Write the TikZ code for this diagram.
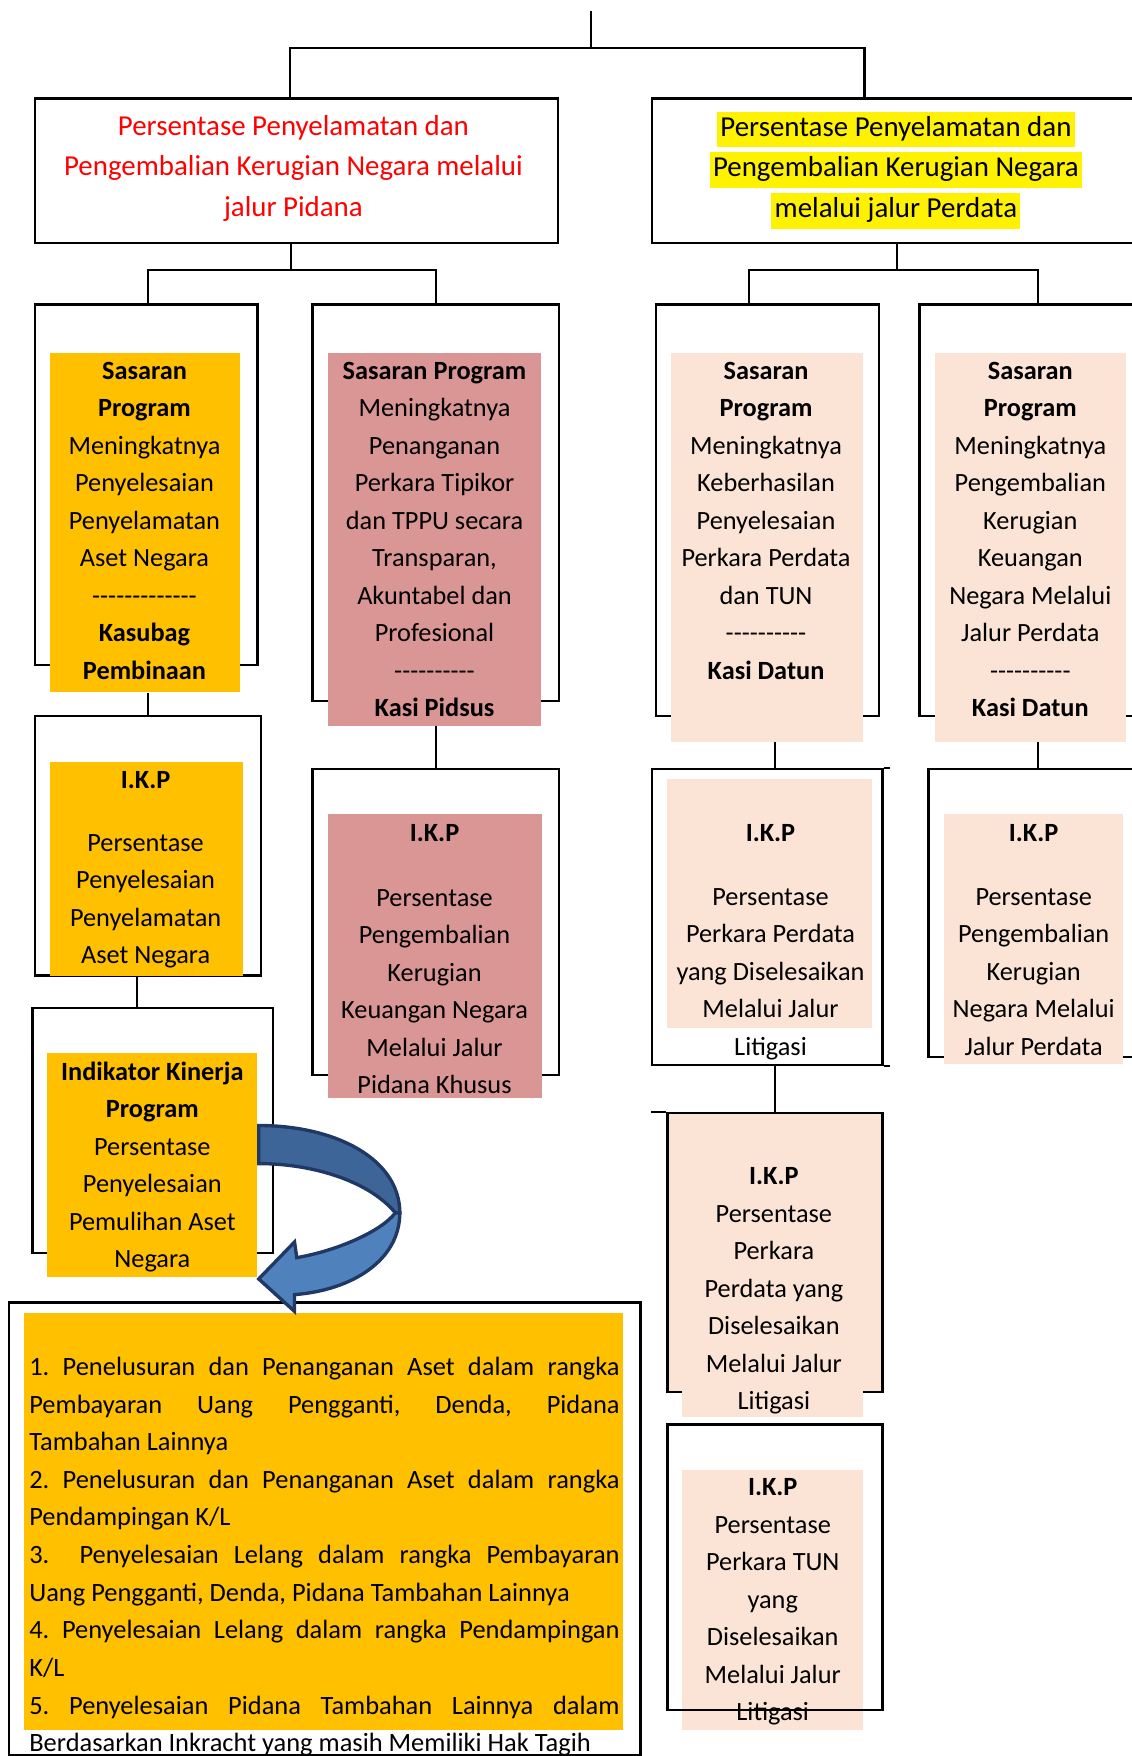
\documentclass[tikz,border=0pt]{standalone}
\usepackage{fontspec}
\setmainfont{Carlito}[Ligatures=TeXOff]
\usetikzlibrary{positioning}
\definecolor{boxorange}{HTML}{FFC000}
\definecolor{boxpink}{HTML}{DA9694}
\definecolor{boxpeach}{HTML}{FBE4D5}
\definecolor{arrowdark}{HTML}{3D6597}
\definecolor{arrowlight}{HTML}{4F81BD}
\definecolor{arrowline}{HTML}{1F3864}
\setlength{\fboxsep}{3pt}
\frenchspacing
\newcommand{\topline}{\rule{0pt}{18pt}}
\newcommand{\hilite}[1]{\colorbox{yellow}{\rule[-7pt]{0pt}{26pt}#1}}
\tikzset{
	boxline/.style={draw, line width=2pt, inner sep=0pt, anchor=north west},
	cellfill/.style={fill=#1, inner sep=0pt, anchor=north west},
	celltext/.style={align=center, inner sep=0pt, anchor=north, font=\fontsize{23.5}{33.5}\selectfont},
	headtext/.style={align=center, inner sep=0pt, anchor=north, font=\fontsize{25.8}{36.3}\selectfont},
	listtext/.style={align=justify, text width=527pt, inner sep=0pt, anchor=north west, font=\fontsize{23.6}{33.6}\selectfont},
	connector/.style={line width=2pt},
	arrowband/.style={draw=arrowline, line width=3pt}
}
\begin{document}
\begin{tikzpicture}[x=1pt,y=-1pt]
	\useasboundingbox (0,0) rectangle (1010,1568);
	%Top boxes
	\node [boxline, minimum width=467pt, minimum height=129pt] (abox) at (30,87) {};
	\node [headtext, text=red] (atext) at (262,102.5) {\topline Persentase Penyelamatan dan\\Pengembalian Kerugian Negara melalui\\jalur Pidana};
	\node [boxline, minimum width=444pt, minimum height=129pt] (bbox) at (581,87) {};
	\node [headtext] (btext) at (800,99.5) {\hilite{Persentase Penyelamatan dan}\\\hilite{Pengembalian Kerugian Negara}\\\hilite{melalui jalur Perdata}};
	%Sasaran Program boxes
	%cellC1
	\node [boxline, minimum width=199pt, minimum height=322pt] (c1box) at (30,271) {};
	\node [cellfill=boxorange, minimum width=170pt, minimum height=303pt] (c1fill) at (44,315) {};
	\node [celltext] (c1text) at (129,320.5) {\topline\textbf{Sasaran}\\\textbf{Program}\\Meningkatnya\\Penyelesaian\\Penyelamatan\\Aset Negara\\-------------\\\textbf{Kasubag}\\\textbf{Pembinaan}};
	%cellC2
	\node [boxline, minimum width=220pt, minimum height=354pt] (c2box) at (278,271) {};
	\node [cellfill=boxpink, minimum width=190pt, minimum height=333pt] (c2fill) at (293,315) {};
	\node [celltext] (c2text) at (388,320.5) {\topline\textbf{Sasaran Program}\\Meningkatnya\\Penanganan\\Perkara Tipikor\\dan TPPU secara\\Transparan,\\Akuntabel dan\\Profesional\\----------\\\textbf{Kasi Pidsus}};
	%cellC3
	\node [boxline, minimum width=199pt, minimum height=367pt] (c3box) at (585,271) {};
	\node [cellfill=boxpeach, minimum width=171pt, minimum height=347pt] (c3fill) at (599,315) {};
	\node [celltext] (c3text) at (684,320.5) {\topline\textbf{Sasaran}\\\textbf{Program}\\Meningkatnya\\Keberhasilan\\Penyelesaian\\Perkara Perdata\\dan TUN\\----------\\\textbf{Kasi Datun}};
	%cellC4
	\node [boxline, minimum width=210pt, minimum height=367pt] (c4box) at (820,271) {};
	\node [cellfill=boxpeach, minimum width=170pt, minimum height=347pt] (c4fill) at (835,315) {};
	\node [celltext] (c4text) at (920,320.5) {\topline\textbf{Sasaran}\\\textbf{Program}\\Meningkatnya\\Pengembalian\\Kerugian\\Keuangan\\Negara Melalui\\Jalur Perdata\\----------\\\textbf{Kasi Datun}};
	%I.K.P boxes
	%cellD1
	\node [boxline, minimum width=202pt, minimum height=232pt] (d1box) at (30,638) {};
	\node [cellfill=boxorange, minimum width=173pt, minimum height=191pt] (d1fill) at (44,680) {};
	\node [celltext] (d1text) at (130,686) {\topline\textbf{I.K.P}\\[22.5pt]Persentase\\Penyelesaian\\Penyelamatan\\Aset Negara};
	%cellD2
	\node [boxline, minimum width=220pt, minimum height=273pt] (d2box) at (278,686) {};
	\node [cellfill=boxpink, minimum width=191pt, minimum height=253pt] (d2fill) at (293,727) {};
	\node [celltext] (d2text) at (388,733) {\topline\textbf{I.K.P}\\[24.5pt]Persentase\\Pengembalian\\Kerugian\\Keuangan Negara\\Melalui Jalur\\Pidana Khusus};
	%cellD3
	\node [boxline, minimum width=206pt, minimum height=264pt] (d3box) at (581,686) {};
	\draw [connector] (d3box.north east) -- ++(6,0);
	\draw [connector] (d3box.south east) -- ++(6,0);
	\node [cellfill=boxpeach, minimum width=183pt, minimum height=223pt] (d3fill) at (595,695) {};
	\node [celltext] (d3text) at (688,733) {\topline\textbf{I.K.P}\\[23.5pt]Persentase\\Perkara Perdata\\yang Diselesaikan\\Melalui Jalur\\Litigasi};
	%cellD4
	\node [boxline, minimum width=202pt, minimum height=257pt] (d4box) at (828,686) {};
	\node [cellfill=boxpeach, minimum width=160pt, minimum height=223pt] (d4fill) at (843,727) {};
	\node [celltext] (d4text) at (923,733) {\topline\textbf{I.K.P}\\[23.5pt]Persentase\\Pengembalian\\Kerugian\\Negara Melalui\\Jalur Perdata};
	%Indikator Kinerja Program
	\node [boxline, minimum width=215pt, minimum height=219pt] (e1box) at (28,899) {};
	\node [cellfill=boxorange, minimum width=187pt, minimum height=200pt] (e1fill) at (42,940) {};
	\node [celltext] (e1text) at (136,946.5) {\topline\textbf{Indikator Kinerja}\\\textbf{Program}\\Persentase\\Penyelesaian\\Pemulihan Aset\\Negara};
	%Litigasi boxes
	\node [boxline, fill=boxpeach, minimum width=192pt, minimum height=249pt] (f3box) at (595,993) {};
	\draw [connector] (f3box.north west) -- ++(-14,0);
	\node [cellfill=boxpeach, minimum width=161pt, minimum height=23pt] (f3fill) at (609,1242) {};
	\node [celltext] (f3text) at (691,1039.5) {\topline\textbf{I.K.P}\\Persentase\\Perkara\\Perdata yang\\Diselesaikan\\Melalui Jalur\\Litigasi};
	\node [cellfill=boxpeach, minimum width=161pt, minimum height=233pt] (g3fill) at (609,1312) {};
	\node [celltext] (g3text) at (690,1317.5) {\topline\textbf{I.K.P}\\Persentase\\Perkara TUN\\yang\\Diselesaikan\\Melalui Jalur\\Litigasi};
	\node [boxline, minimum width=192pt, minimum height=255pt] (g3box) at (595,1271) {};
	%List of activities
	\node [boxline, minimum width=564pt, minimum height=404pt] (hbox) at (7,1162) {};
	\node [cellfill=boxorange, minimum width=535pt, minimum height=373pt] (hfill) at (21,1172) {};
	\node [listtext] (htext) at (26,1210) {\topline 1. Penelusuran dan Penanganan Aset dalam rangka\linebreak Pembayaran Uang Pengganti, Denda, Pidana\linebreak Tambahan Lainnya\par
		2. Penelusuran dan Penanganan Aset dalam rangka\linebreak Pendampingan K/L\par
		3.\ \ Penyelesaian Lelang dalam rangka Pembayaran\linebreak Uang Pengganti, Denda, Pidana Tambahan Lainnya\par
		4. Penyelesaian Lelang dalam rangka Pendampingan\linebreak K/L\par
		5. Penyelesaian Pidana Tambahan Lainnya dalam\linebreak Berdasarkan Inkracht yang masih Memiliki Hak Tagih};
	%Connectors
	\coordinate (title) at (528,10);
	\coordinate (topjoin) at (528,43);
	\draw [connector] (title) -- (topjoin);
	\draw [connector] (abox.north -| 259,0) |- (topjoin) -| (bbox.north -| 772,0);
	\draw [connector] (abox.south -| 260,0) -- (260,241) coordinate (ajoin);
	\draw [connector] (c1box.north -| 132,0) |- (ajoin) -| (c2box.north -| 389,0);
	\draw [connector] (bbox.south -| 801,0) -- (801,241) coordinate (bjoin);
	\draw [connector] (c3box.north -| 669,0) |- (bjoin) -| (c4box.north -| 927,0);
	\draw [connector] (c1fill.south -| 132,0) -- (d1box.north -| 132,0);
	\draw [connector] (c2fill.south -| 389,0) -- (d2box.north -| 389,0);
	\draw [connector] (c3fill.south -| 692,0) -- (d3box.north -| 692,0);
	\draw [connector] (c4fill.south -| 927,0) -- (d4box.north -| 927,0);
	\draw [connector] (d1box.south -| 122,0) -- (e1box.north -| 122,0);
	\draw [connector] (d3box.south -| 692,0) -- (f3box.north -| 692,0);
	%Curved arrow
	\draw [arrowband, fill=arrowdark] (231,1005) .. controls (300,1005) and (357,1035) .. (357,1083) -- (353,1083) .. controls (330,1055) and (280,1039) .. (231,1039) -- cycle;
	\draw [arrowband, fill=arrowlight] (357,1083) .. controls (357,1125) and (315,1152) .. (263,1156) -- (263,1171) -- (231,1142) -- (263,1109) -- (265,1123) .. controls (300,1117) and (340,1100) .. (353,1083) -- cycle;
\end{tikzpicture}
\end{document}
